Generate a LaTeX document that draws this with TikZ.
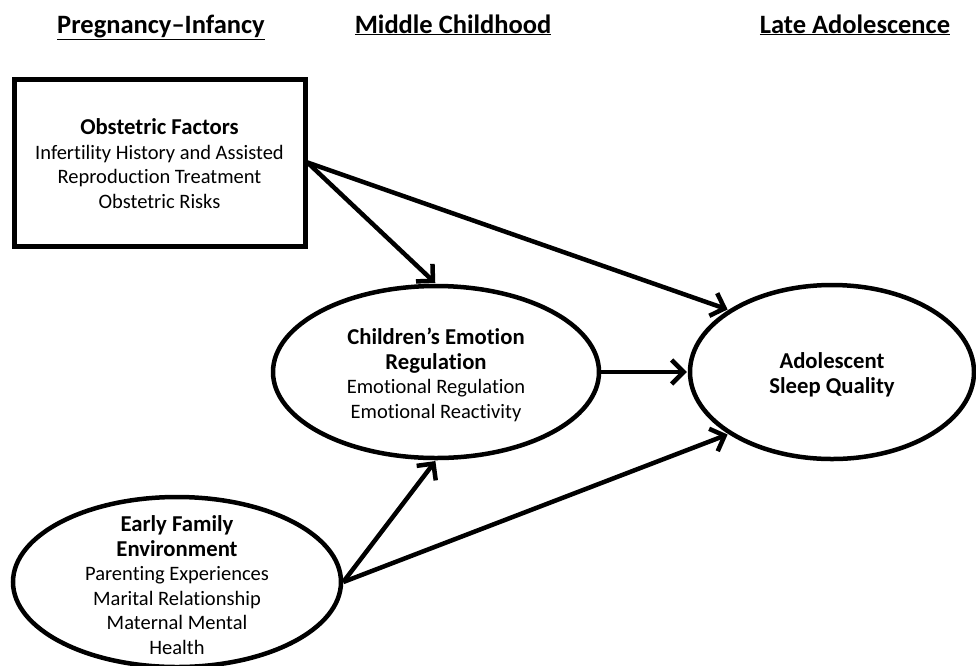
\documentclass[tikz,border=0pt]{standalone}
\usepackage{fontspec}
\setmainfont[Ligatures=NoCommon]{Carlito}
\usetikzlibrary{arrows.meta,shapes.geometric,calc}
\newcommand{\hd}[1]{{\fontsize{22.7}{24.5}\selectfont\bfseries #1}}
\begin{document}
\begin{tikzpicture}[x=1pt,y=-1pt,
  hdr/.style={font=\fontsize{26.5}{30}\selectfont\bfseries, anchor=base, inner sep=0pt},
  txt/.style={font=\fontsize{20.5}{24.5}\selectfont, align=center, inner sep=0pt},
  boxnode/.style={draw, line width=5pt, minimum width=291pt, minimum height=167pt, inner sep=0pt},
  ell/.style={draw, ellipse, line width=4.5pt, inner sep=0pt},
  arr/.style={line width=4.5pt, -{Straight Barb[length=12pt,width=24pt,line width=4.5pt]}, shorten >=1pt}
]
\useasboundingbox (0,0) rectangle (976,665);
% headers
\node[hdr] (h1) at (161,33) {\underline{Pregnancy–Infancy}};
\node[hdr] (h2) at (453,33) {\underline{Middle Childhood}};
\node[hdr] (h3) at (855,33) {\underline{Late Adolescence}};
% shapes
\node[boxnode] (obs) at (159.5,162.5) {};
\node[ell, minimum width=326pt, minimum height=172pt] (cer) at (436,372) {};
\node[ell, minimum width=284pt, minimum height=174pt] (asq) at (832,372) {};
\node[ell, minimum width=328pt, minimum height=170pt] (efe) at (177,582) {};
% texts
\node[txt] (obst) at ($(obs)+(0,1)$) {\hd{Obstetric Factors}\\Infertility History and Assisted\\Reproduction Treatment\\Obstetric Risks};
\node[txt] (cert) at ($(cer)+(0,3)$) {\hd{Children’s Emotion}\\\hd{Regulation}\\Emotional Regulation\\Emotional Reactivity};
\node[txt] (asqt) at ($(asq)+(0,3)$) {\hd{Adolescent}\\\hd{Sleep Quality}};
\node[txt] (efet) at ($(efe)+(0,3)$) {\hd{Early Family}\\\hd{Environment}\\Parenting Experiences\\Marital Relationship\\Maternal Mental\\Health};
% connectors
\draw[arr] (obs.east) -- (cer.north);
\draw[arr] (obs.east) -- (asq.149);
\draw[arr] (cer.east) -- (asq.west);
\draw[arr] (efe.east) -- (cer.south);
\draw[arr] (efe.east) -- (asq.211);
\end{tikzpicture}
\end{document}
